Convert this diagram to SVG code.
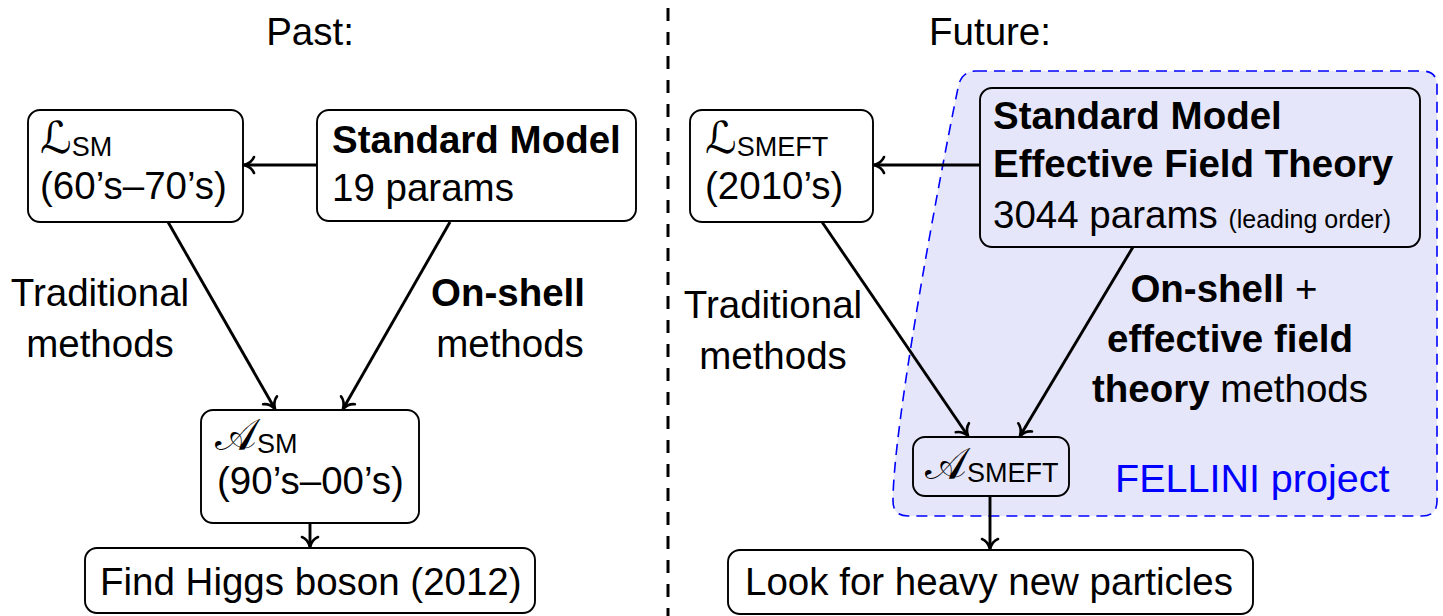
<svg xmlns="http://www.w3.org/2000/svg" width="1443" height="616" viewBox="0 0 1443 616">
<style>
text{font-family:"Liberation Sans","DejaVu Sans",sans-serif;font-size:38.5px;fill:#000}
.b{font-weight:bold}
.m{font-family:"DejaVu Serif","DejaVu Sans","Noto Sans",serif;font-size:44px}
.sub{font-size:27px}
.box{fill:#fff;stroke:#000;stroke-width:1.9}
.boxb{fill:#e6e6fa;stroke:#000;stroke-width:1.9}
.c{text-anchor:middle}
.conn line{stroke:#000;stroke-width:2.9;marker-end:url(#arr)}
</style>
<defs>
<marker id="arr" viewBox="-13 -10 15 20" markerWidth="15" markerHeight="20" refX="0" refY="0" orient="auto" markerUnits="userSpaceOnUse">
<path d="M -10 -8 C -8 -3 -2.5 -0.7 0 0 C -2.5 0.7 -8 3 -10 8" fill="none" stroke="#000" stroke-width="2.6" stroke-linecap="round"/>
</marker>
</defs>
<rect width="1443" height="616" fill="#fff"/>
<g id="titles">
<text class="c" x="310" y="45">Past:</text>
<text class="c" x="990" y="45">Future:</text>
</g>
<line id="separator" x1="668" y1="8" x2="668" y2="616" stroke="#000" stroke-width="3" stroke-dasharray="13 11"/>
<g id="fellini">
<path d="M 976 71 L 1422 71 Q 1437 71 1437 86 L 1437 501 Q 1437 516 1422 516 L 908 516 Q 893 516 893 501 C 893 430 935 200 958 88 Q 961 71 976 71 Z" fill="#e6e6fa" stroke="#0000ff" stroke-width="1.6" stroke-dasharray="11 7"/>
<text x="1115" y="492" style="fill:#0000ff;font-size:39.5px">FELLINI project</text>
</g>
<g id="L_SM">
<rect class="box" x="28" y="110" width="215" height="112" rx="12"/>
<text x="40" y="153"><tspan class="m">ℒ</tspan><tspan class="sub" dy="3">SM</tspan></text>
<text x="40" y="199">(60’s–70’s)</text>
</g>
<g id="SM">
<rect class="box" x="317" y="110" width="319" height="111" rx="12"/>
<text class="b" x="332" y="153">Standard Model</text>
<text x="332" y="201">19 params</text>
</g>
<g id="A_SM">
<rect class="box" x="201" y="410" width="218" height="113" rx="12"/>
<text x="215" y="450"><tspan class="m">𝒜</tspan><tspan class="sub" dy="3">SM</tspan></text>
<text x="217" y="494">(90’s–00’s)</text>
</g>
<g id="Higgs">
<rect class="box" x="85" y="548" width="450" height="65" rx="12"/>
<text x="100" y="595">Find Higgs boson (2012)</text>
</g>
<g id="L_SMEFT">
<rect class="box" x="690" y="110" width="183" height="112" rx="12"/>
<text x="705" y="153"><tspan class="m">ℒ</tspan><tspan class="sub" dy="3">SMEFT</tspan></text>
<text x="705" y="199">(2010’s)</text>
</g>
<g id="SMEFT">
<rect class="boxb" x="980" y="88" width="440" height="159" rx="12"/>
<text class="b" x="993" y="129">Standard Model</text>
<text class="b" x="993" y="177">Effective Field Theory</text>
<text x="993" y="228">3044 params <tspan style="font-size:25px">(leading order)</tspan></text>
</g>
<g id="A_SMEFT">
<rect class="boxb" x="913" y="437" width="156" height="59" rx="12"/>
<text x="925" y="479"><tspan class="m">𝒜</tspan><tspan class="sub" dy="3">SMEFT</tspan></text>
</g>
<g id="Look">
<rect class="box" x="728" y="550" width="525" height="64" rx="12"/>
<text x="745" y="595">Look for heavy new particles</text>
</g>
<g id="labels">
<text class="c" x="100" y="306">Traditional</text>
<text class="c" x="100" y="357">methods</text>
<text class="c b" x="508" y="306">On-shell</text>
<text class="c" x="510" y="357">methods</text>
<text class="c" x="773" y="318">Traditional</text>
<text class="c" x="773" y="369">methods</text>
<text class="c" x="1224" y="302"><tspan class="b">On-shell</tspan> +</text>
<text class="c b" x="1230" y="352">effective field</text>
<text class="c" x="1230" y="402"><tspan class="b">theory</tspan> methods</text>
</g>
<g class="conn" id="connectors">
<line x1="317" y1="165" x2="244" y2="165"/>
<line x1="168" y1="222" x2="275" y2="409"/>
<line x1="450" y1="222" x2="343" y2="409"/>
<line x1="310" y1="523" x2="310" y2="547"/>
<line x1="980" y1="165" x2="874" y2="165"/>
<line x1="822" y1="222" x2="968" y2="436"/>
<line x1="1133" y1="247" x2="1020" y2="436"/>
<line x1="990" y1="496" x2="990" y2="549"/>
</g>
</svg>
